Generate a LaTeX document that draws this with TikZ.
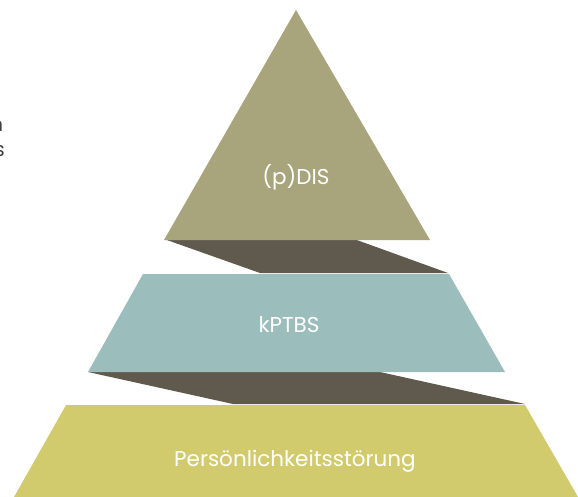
\documentclass[tikz,border=0pt]{standalone}
\usepackage{fontspec}
\setmainfont{Poppins}
\usepackage{xcolor}
\usetikzlibrary{positioning,calc}

\definecolor{topolive}{HTML}{A8A47C}
\definecolor{midteal}{HTML}{9BBDBB}
\definecolor{baseyellow}{HTML}{D1CB6D}
\definecolor{sidedark}{HTML}{5F5A4D}

\tikzset{
  tiertext/.style={text=white, font=\fontsize{21.5}{25}\selectfont, inner sep=0pt},
  cuttext/.style={text=black!75, font=\fontsize{20}{24}\selectfont, inner sep=0pt, anchor=base east},
}

\begin{document}
\begin{tikzpicture}[x=1pt,y=-1pt]
    \useasboundingbox (0,0) rectangle (578,497);
    \clip (0,0) rectangle (578,497);

    % Text cut off at the left margin
    \node[cuttext] (cutA) at (3.5,132) {n};
    \node[cuttext] (cutB) at (5,157) {s};

    % Side faces
    \fill[sidedark] (164,239) -- (354,239) -- (448,273) -- (260,273) -- cycle;
    \fill[sidedark] (88,372) -- (380,372) -- (525,404) -- (233,404) -- cycle;

    % Top tier (triangle)
    \fill[topolive] (296,10) -- (430,240) -- (164,240) -- cycle;
    \node[tiertext] (dis) at (296,177) {(p)DIS};

    % Middle tier
    \fill[midteal] (143,274) -- (449,274) -- (505,372) -- (88,372) -- cycle;
    \node[tiertext] (ptbs) at (289,325) {kPTBS};

    % Bottom tier
    \fill[baseyellow] (66,405) -- (525,405) -- (578,497) -- (14,497) -- cycle;
    \node[tiertext] (pst) at (295,461) {Persönlichkeitsstörung};
\end{tikzpicture}
\end{document}
